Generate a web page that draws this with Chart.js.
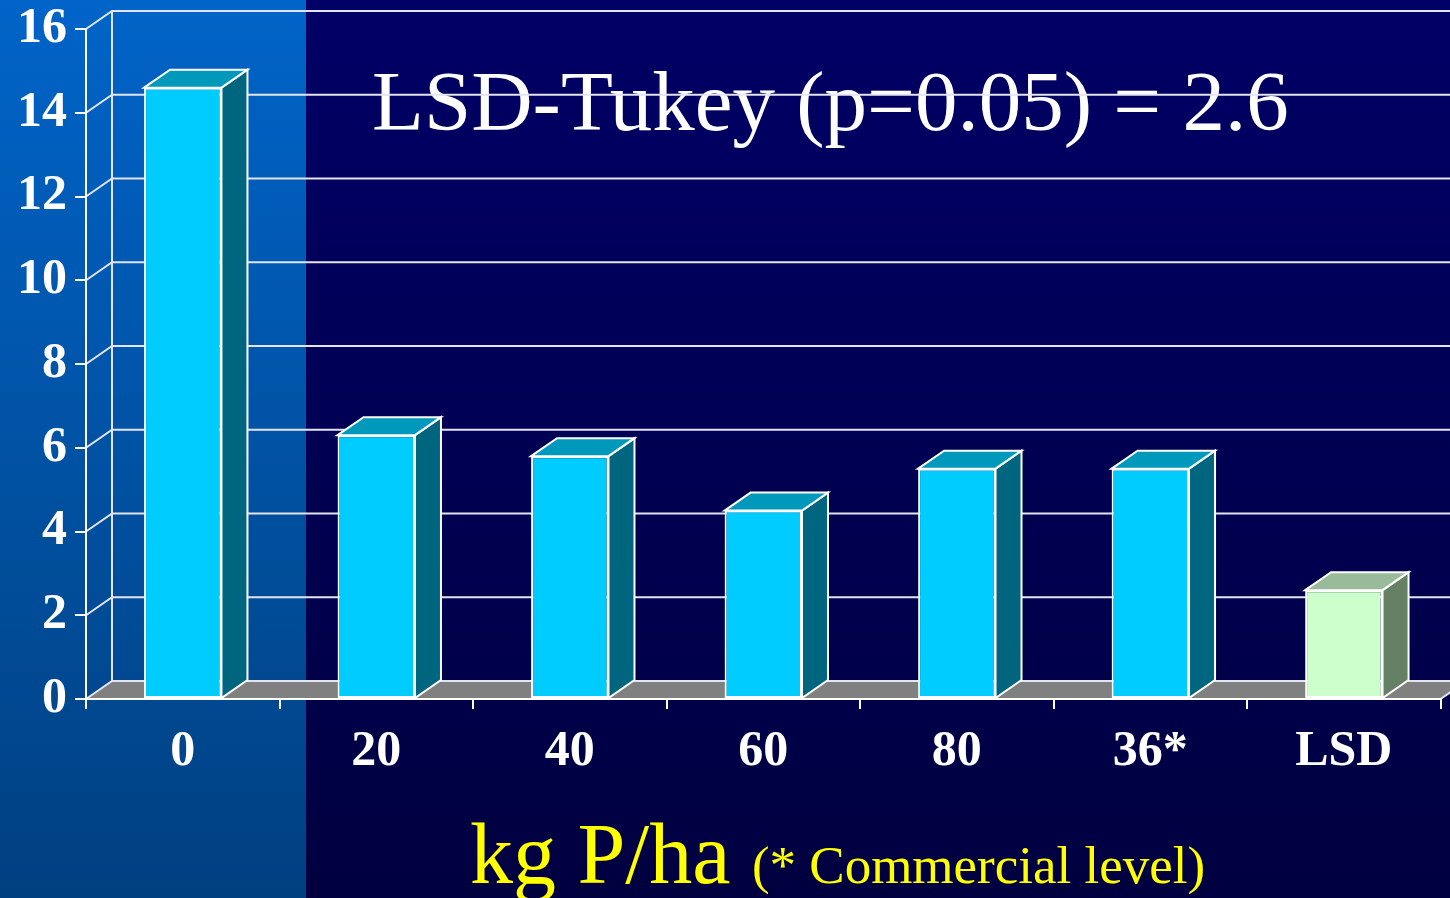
<!DOCTYPE html>
<html>
<head>
<meta charset="utf-8">
<script src="https://cdn.jsdelivr.net/npm/chart.js@4.4.1/dist/chart.umd.min.js"></script>
<style>
  html, body { margin: 0; padding: 0; background: #000060; overflow: hidden; }
  #c { display: block; }
</style>
</head>
<body>
<canvas id="c" width="1450" height="898"></canvas>
<script>
// Phosphorus rate categories and measured values
const categories = ['0', '20', '40', '60', '80', '36*', 'LSD'];
const values = [14.6, 6.3, 5.8, 4.5, 5.5, 5.5, 2.6];
const yTicks = [0, 2, 4, 6, 8, 10, 12, 14, 16];
const annotation = 'LSD-Tukey (p=0.05) = 2.6';
const axisTitle = 'kg P/ha';
const axisNote = '(* Commercial level)';

// depth offset of the pseudo-3D walls and columns
const DX = 26, DY = 18;
const SERIF = '"Liberation Serif", "Times New Roman", serif';

function isLsd(i) { return categories[i] === 'LSD'; }

const depthPlugin = {
  id: 'depth3d',
  beforeDraw(chart) {
    const { ctx, width, height, chartArea: a } = chart;
    const y = chart.scales.y;
    ctx.save();
    // slide background
    let g = ctx.createLinearGradient(0, 0, 0, height);
    g.addColorStop(0, '#000066');
    g.addColorStop(1, '#000040');
    ctx.fillStyle = g;
    ctx.fillRect(0, 0, width, height);
    g = ctx.createLinearGradient(0, 0, 0, height);
    g.addColorStop(0, '#0064c8');
    g.addColorStop(1, '#004080');
    ctx.fillStyle = g;
    ctx.fillRect(0, 0, 306, height);

    // annotation
    ctx.fillStyle = '#ffffff';
    ctx.font = '85px ' + SERIF;
    ctx.textBaseline = 'alphabetic';
    ctx.textAlign = 'left';
    ctx.fillText(annotation, 372, 130);

    // floor
    const y0 = y.getPixelForValue(0);
    ctx.fillStyle = '#808080';
    ctx.beginPath();
    ctx.moveTo(a.left, y0);
    ctx.lineTo(a.right, y0);
    ctx.lineTo(a.right + DX, y0 - DY);
    ctx.lineTo(a.left + DX, y0 - DY);
    ctx.closePath();
    ctx.fill();

    // back wall grid lines with their side-wall diagonals
    ctx.strokeStyle = '#e4e4f4';
    ctx.lineWidth = 2;
    ctx.beginPath();
    yTicks.forEach(v => {
      const yy = y.getPixelForValue(v);
      ctx.moveTo(a.left, yy);
      ctx.lineTo(a.left + DX, yy - DY);
      ctx.lineTo(width, yy - DY);
    });
    ctx.moveTo(a.left + DX, y.getPixelForValue(0) - DY);
    ctx.lineTo(a.left + DX, y.getPixelForValue(16) - DY);
    ctx.moveTo(a.right, y0);
    ctx.lineTo(a.right + DX, y0 - DY);
    ctx.stroke();
    ctx.restore();
  },
  afterDatasetsDraw(chart) {
    const { ctx } = chart;
    const meta = chart.getDatasetMeta(0);
    ctx.save();
    ctx.lineWidth = 2;
    ctx.strokeStyle = '#ffffff';
    ctx.lineJoin = 'miter';
    meta.data.forEach((bar, i) => {
      const p = bar.getProps(['x', 'y', 'base', 'width'], true);
      const l = p.x - p.width / 2, r = p.x + p.width / 2;
      const lsd = isLsd(i);
      // side face
      ctx.fillStyle = lsd ? '#668066' : '#006680';
      ctx.beginPath();
      ctx.moveTo(r, p.y);
      ctx.lineTo(r + DX, p.y - DY);
      ctx.lineTo(r + DX, p.base - DY);
      ctx.lineTo(r, p.base);
      ctx.closePath();
      ctx.fill();
      ctx.stroke();
      // top face
      ctx.fillStyle = lsd ? '#99bb99' : '#0099bb';
      ctx.beginPath();
      ctx.moveTo(l, p.y);
      ctx.lineTo(l + DX, p.y - DY);
      ctx.lineTo(r + DX, p.y - DY);
      ctx.lineTo(r, p.y);
      ctx.closePath();
      ctx.fill();
      ctx.stroke();
    });
    ctx.restore();
  },
  afterDraw(chart) {
    const { ctx } = chart;
    ctx.save();
    ctx.fillStyle = '#ffff00';
    ctx.textBaseline = 'alphabetic';
    ctx.textAlign = 'left';
    ctx.font = '86px ' + SERIF;
    const x0 = 470;
    ctx.fillText(axisTitle, x0, 883);
    const w = ctx.measureText(axisTitle + ' ').width;
    ctx.font = '53px ' + SERIF;
    ctx.fillText(axisNote, x0 + w, 883);
    ctx.restore();
  }
};

new Chart(document.getElementById('c'), {
  type: 'bar',
  data: {
    labels: categories,
    datasets: [{
      data: values,
      backgroundColor: ctx => isLsd(ctx.dataIndex) ? '#ccffcc' : '#00ccff',
      borderColor: '#ffffff',
      borderWidth: 2,
      borderSkipped: false,
      barPercentage: 0.4,
      categoryPercentage: 1.0
    }]
  },
  options: {
    responsive: false,
    animation: false,
    devicePixelRatio: 1,
    layout: { padding: { top: 29, right: 9.4, left: 0, bottom: 0 } },
    plugins: { legend: { display: false }, tooltip: { enabled: false } },
    scales: {
      x: {
        grid: { display: true, drawOnChartArea: false, color: '#ffffff', lineWidth: 2, tickLength: 10, offset: true },
        border: { display: true, color: '#ffffff', width: 2 },
        ticks: { color: '#ffffff', font: { family: SERIF, size: 50, weight: 'bold' }, padding: 13, maxRotation: 0 },
        afterFit: s => { s.height = 199; s.paddingLeft = 0; s.paddingRight = 0; }
      },
      y: {
        min: 0, max: 16,
        afterBuildTicks: s => { s.ticks = yTicks.map(v => ({ value: v })); },
        grid: { display: true, drawOnChartArea: false, color: '#ffffff', lineWidth: 2, tickLength: 11 },
        border: { display: true, color: '#ffffff', width: 2 },
        ticks: { color: '#ffffff', font: { family: SERIF, size: 50, weight: 'bold' }, padding: 8 },
        afterFit: s => { s.width = 86; s.paddingTop = 0; s.paddingBottom = 0; }
      }
    }
  },
  plugins: [depthPlugin]
});
</script>
</body>
</html>
